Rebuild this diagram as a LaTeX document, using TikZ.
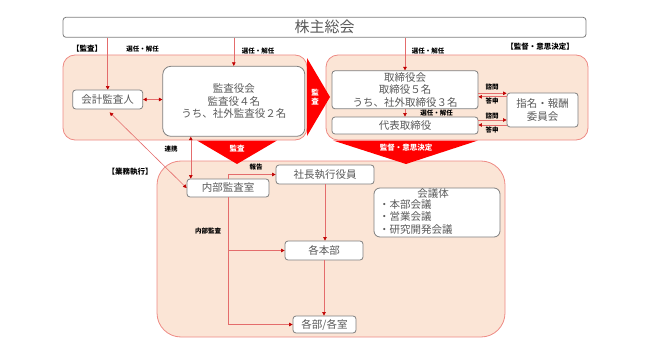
\documentclass[tikz,border=0pt]{standalone}
\usepackage{fontspec}
\setmainfont{Noto Sans CJK JP}
\usetikzlibrary{arrows.meta}
\definecolor{boxgray}{HTML}{7F7F7F}
\definecolor{txtgray}{HTML}{595959}
\definecolor{regfill}{HTML}{FBE5D6}
\definecolor{regline}{HTML}{EE8A84}
\definecolor{linered}{HTML}{E46C6C}
\definecolor{tipred}{HTML}{C00000}
\tikzset{
	orgbox/.style={draw=boxgray, fill=white, rounded corners=3pt, thick, text=txtgray,
		font=\fontsize{10.5}{12.5}\selectfont, align=center, inner sep=0pt},
	region/.style={draw=regline, fill=regfill, thick},
	conn/.style={draw=linered, semithick, -{Triangle[length=3.5pt,width=3.5pt,color=tipred]}},
	conn2/.style={draw=linered, semithick, {Triangle[length=3.5pt,width=3.5pt,color=tipred]}-{Triangle[length=3.5pt,width=3.5pt,color=tipred]}},
	tag/.style={font=\fontsize{6.5}{7}\selectfont\bfseries, inner sep=0pt},
	head/.style={font=\fontsize{7.5}{8}\selectfont\bfseries, inner sep=0pt},
	bigarrow/.style={fill=red, draw=none},
	arrowtext/.style={text=white, font=\fontsize{7.5}{8.5}\selectfont\bfseries, align=center, inner sep=0pt}
}
\begin{document}
\begin{tikzpicture}[x=1pt, y=-1pt]
	\useasboundingbox (0,0) rectangle (659,353);
	
	% regions
	\draw[region, rounded corners=12pt] (63,55) rectangle (307,140);
	\draw[region, rounded corners=12pt] (326,55) rectangle (588,140);
	\draw[region, rounded corners=24pt] (157,161) rectangle (505,337);
	
	% big arrows
	\fill[bigarrow] (307,58) -- (330,97) -- (307,136) -- cycle;
	\node[arrowtext] (kansa-r) at (315,97) {監\\査};
	\fill[bigarrow] (197,140.5) -- (277,140.5) -- (237,164) -- cycle;
	\node[arrowtext] (kansa-d) at (237,148.5) {監査};
	\fill[bigarrow] (333,140.5) -- (478,140.5) -- (406,164) -- cycle;
	\node[arrowtext] (kantoku-d) at (406,148) {監督・意思決定};
	
	% boxes
	\node[orgbox, minimum width=523, minimum height=20, font=\fontsize{15}{16}\selectfont] (soukai) at (324.5,27.3) {株主総会};
	\node[orgbox, minimum width=70, minimum height=19] (kaikei) at (107.7,99.5) {会計監査人};
	\node[orgbox, minimum width=142, minimum height=70, rounded corners=8pt] (kansayaku) at (233.8,101.3) {監査役会\\監査役４名\\うち、社外監査役２名};
	\node[orgbox, minimum width=146, minimum height=38] (torishimari) at (405,89.8) {取締役会\\取締役５名\\うち、社外取締役３名};
	\node[orgbox, minimum width=146, minimum height=17] (daihyo) at (405,125.5) {代表取締役};
	\node[orgbox, minimum width=71, minimum height=34] (shimei) at (542.5,110) {指名・報酬\\委員会};
	\node[orgbox, minimum width=82, minimum height=18] (naibu) at (228,188) {内部監査室};
	\node[orgbox, minimum width=98, minimum height=19] (shacho) at (325,174.5) {社長執行役員};
	\node[orgbox, minimum width=126, minimum height=49, rounded corners=6pt] (kaigi) at (437,212.5) {};
	\node[text=txtgray, font=\fontsize{10.5}{12.3}\selectfont, inner sep=0pt] (kaigi-title) at (433,193.3) {会議体};
	\node[text=txtgray, font=\fontsize{10.5}{12.3}\selectfont, inner sep=0pt, align=left, anchor=north west] (kaigi-list) at (379,199.5) {・本部会議\\・営業会議\\・研究開発会議};
	\node[orgbox, minimum width=78, minimum height=19] (kakuhonbu) at (324,250.5) {各本部};
	\node[orgbox, minimum width=63, minimum height=17] (kakubu) at (324.5,324.5) {各部/各室};
	
	% headings
	\node[head] (h-kansa) at (87,48.5) {【監査】};
	\node[head] (h-kantoku) at (540,46.5) {【監督・意思決定】};
	\node[head] (h-gyomu) at (130,172) {【業務執行】};
	
	% connectors
	\draw[conn] (kaikei.north |- soukai.south) -- (kaikei.north);
	\draw[conn] (kansayaku.north |- soukai.south) -- (kansayaku.north);
	\draw[conn] (torishimari.north |- soukai.south) -- (torishimari.north);
	\draw[conn2] (kaikei.east) -- (kaikei.east -| kansayaku.west);
	\draw[conn] (torishimari.south) -- (daihyo.north);
	\node[tag] (t-sennin1) at (142.7,49.3) {選任・解任};
	\node[tag] (t-sennin2) at (258,50.7) {選任・解任};
	\node[tag] (t-sennin3) at (428,50.7) {選任・解任};
	\node[tag] (t-sennin4) at (436.7,112.7) {選任・解任};
	
	\coordinate (s1) at ([yshift=-3.5pt]torishimari.east);
	\coordinate (s2) at ([yshift=-7pt]torishimari.east);
	\coordinate (s3) at ([yshift=5.5pt]daihyo.east);
	\coordinate (s4) at ([yshift=0.5pt]daihyo.east);
	\draw[conn] (s1) -- (s1 -| shimei.west);
	\draw[conn] (s2 -| shimei.west) -- (s2);
	\draw[conn] (s3) -- (s3 -| shimei.west);
	\draw[conn] (s4 -| shimei.west) -- (s4);
	\node[tag] (t-shimon1) at (492,87) {諮問};
	\node[tag] (t-toshin1) at (492,101.5) {答申};
	\node[tag] (t-shimon2) at (492,116) {諮問};
	\node[tag] (t-toshin2) at (492,130.5) {答申};
	
	\coordinate (k1) at ([xshift=-43pt]kansayaku.south);
	\draw[conn2] (k1) -- (k1 |- naibu.north);
	\draw[conn2] ([xshift=2pt,yshift=-3pt]kaikei.south) -- (naibu.west);
	\node[tag] (t-renkei) at (171,149) {連携};
	
	\draw[conn] (naibu.north) |- (shacho.west);
	\node[tag] (t-houkoku) at (256,167) {報告};
	\draw[conn] (naibu.south) |- (kakubu.west);
	\draw[conn] (naibu.south |- kakuhonbu.west) -- (kakuhonbu.west);
	\node[tag] (t-naibu) at (208,231) {内部監査};
	\draw[conn] (shacho.south) -- (shacho.south |- kakuhonbu.north);
	\draw[conn] (kakuhonbu.south) -- (kakuhonbu.south |- kakubu.north);
	
\end{tikzpicture}
\end{document}
